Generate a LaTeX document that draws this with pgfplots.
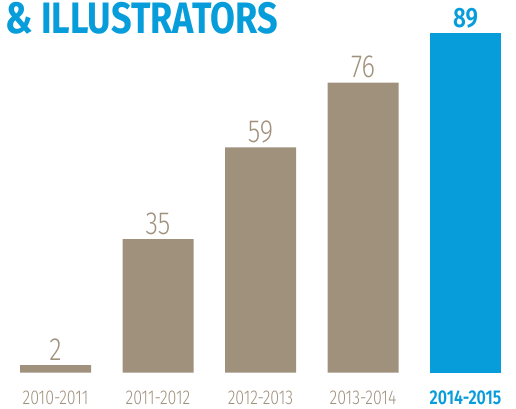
\documentclass[border=0pt]{standalone}
\usepackage{fontspec}
\setmainfont{Fira Sans}[UprightFont={* Light}, BoldFont={* SemiBold}, FakeStretch=0.8]
\newfontfamily\titlefont{Fira Sans}[UprightFont={* Bold}, FakeStretch=0.82]
\usepackage{pgfplots}
\pgfplotsset{compat=1.18}
\definecolor{taupe}{HTML}{A0917D}
\definecolor{cblue}{HTML}{079DDB}
\begin{document}
\begin{tikzpicture}
\begin{axis}[
  at={(0,0)}, anchor=south west,
  scale only axis, width=516pt, height=408pt,
  xmin=-0.5415, xmax=4.4927, ymin=-9.248, ymax=97.64,
  axis line style={draw=none},
  ytick=\empty,
  xtick={0,1,2,3,4},
  xticklabels={2010-2011,2011-2012,2012-2013,2013-2014,{\bfseries\color{cblue}2014-2015}},
  xticklabel style={anchor=base, yshift=4pt, inner sep=0pt, text=taupe, font=\fontsize{20}{20}\selectfont},
  major tick length=0pt,
  /pgf/number format/assume math mode=true,
  ybar, bar width=71pt, bar shift=0pt,
  nodes near coords,
  every node near coord/.append style={anchor=base, yshift=5pt, inner sep=0pt},
  clip=false,
]
\addplot[fill=taupe, draw=none, nodes near coords style={text=taupe, font=\fontsize{32}{32}\selectfont}]
  coordinates {(0,2) (1,35) (2,59) (3,76)};
\addplot[fill=cblue, draw=none, nodes near coords style={text=cblue, font=\bfseries\fontsize{28}{28}\selectfont}]
  coordinates {(4,89)};
\node[anchor=base west, inner sep=0pt, text=cblue, font=\titlefont\fontsize{44}{44}\selectfont]
  at (axis description cs:0.0097,0.919) {\& ILLUSTRATORS};
\end{axis}
\pgfresetboundingbox
\useasboundingbox (0,0) rectangle (516pt,408pt);
\end{tikzpicture}
\end{document}
